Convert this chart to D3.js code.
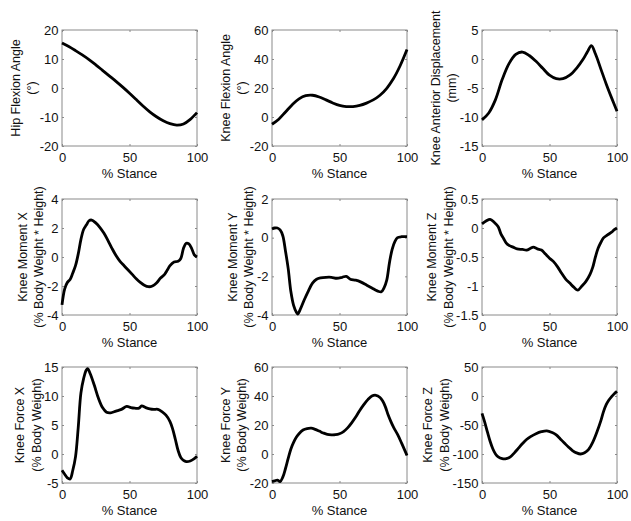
<!DOCTYPE html>
<html><head><meta charset="utf-8">
<script src="https://cdn.jsdelivr.net/npm/d3@7"></script>
<style>
body{margin:0;background:#fff}
text{font-family:Arial,"Liberation Sans",sans-serif;fill:#111}
</style>
</head><body>
<svg id="chart" width="631" height="521"></svg>
<script>
// ---------- DATA ----------
const stanceTicks = [0, 50, 100];

const hipFlexionX = [0,5,10,15,20,25,30,35,40,45,50,55,60,65,70,75,80,85,90,95,100];
const hipFlexionY = [15.5,14.3,12.9,11.4,9.8,8.0,6.1,4.2,2.3,0.3,-1.8,-4.0,-6.2,-8.2,-9.9,-11.3,-12.3,-12.8,-12.4,-10.8,-8.5];
const hipFlexionTicks = [-20,-10,0,10,20];

const kneeFlexionX = [0,5,10,15,20,25,30,35,40,45,50,55,60,65,70,75,80,85,90,95,100];
const kneeFlexionY = [-5,-1.5,3.5,8.5,12.5,14.7,15,13.8,11.8,9.7,8.0,7.2,7.2,8.0,9.6,11.8,15,19.8,26.5,35.5,46.5];
const kneeFlexionTicks = [-20,0,20,40,60];

const kneeDispX = [0,5,10,15,20,25,30,35,40,45,50,55,60,65,70,75,78,81,84,88,92,96,100];
const kneeDispY = [-10.5,-9.3,-7,-3.5,-0.8,0.8,1.2,0.6,-0.4,-1.6,-2.8,-3.4,-3.4,-2.8,-1.6,0,1.2,2.3,0.9,-1.7,-4.3,-6.7,-9];
const kneeDispTicks = [-15,-10,-5,0,5];

const momentXX = [0,2,4,6,8,10,12,14,16,18,20,22,25,28,31,34,37,40,43,46,49,52,55,58,61,64,67,70,73,76,78,80,83,86,88,90,92,94,96,98,100];
const momentXY = [-3.3,-2.2,-1.75,-1.55,-1.1,-0.6,0.2,1.2,1.9,2.2,2.5,2.55,2.35,2.05,1.65,1.15,0.6,0.1,-0.3,-0.6,-0.9,-1.2,-1.5,-1.75,-1.95,-2.05,-2.0,-1.8,-1.45,-1.2,-0.9,-0.6,-0.35,-0.3,-0.1,0.6,0.95,0.9,0.6,0.15,0.0];
const momentXTicks = [-4,-2,0,2,4];

const momentYX = [0,2,4,6,8,10,12,14,16,18,19,21,24,27,30,33,36,40,44,48,52,55,58,62,66,70,74,78,81,83,85,87,89,91,93,96,100];
const momentYY = [0.45,0.5,0.5,0.4,0.1,-0.7,-1.6,-2.8,-3.5,-3.85,-3.95,-3.7,-3.2,-2.75,-2.35,-2.15,-2.08,-2.05,-2.05,-2.1,-2.05,-2.0,-2.15,-2.2,-2.3,-2.45,-2.6,-2.75,-2.8,-2.6,-2.2,-1.3,-0.6,-0.2,0.0,0.05,0.05];
const momentYTicks = [-4,-2,0,2];

const momentZX = [0,3,6,9,12,14,16,18,20,23,26,30,33,36,38,41,44,47,50,53,56,59,62,65,68,71,74,77,80,82,84,86,88,90,93,96,98,100];
const momentZY = [0.07,0.12,0.15,0.1,0.02,-0.1,-0.18,-0.26,-0.3,-0.33,-0.36,-0.37,-0.38,-0.35,-0.33,-0.36,-0.38,-0.45,-0.52,-0.58,-0.67,-0.78,-0.88,-0.95,-1.02,-1.07,-1.0,-0.92,-0.8,-0.68,-0.5,-0.35,-0.25,-0.17,-0.12,-0.07,-0.03,0.0];
const momentZTicks = [-1.5,-1,-0.5,0,0.5];

const forceXX = [0,2,4,6,8,10,12,14,16,18,19,21,24,27,30,33,36,40,44,48,51,54,57,59,62,65,68,71,74,77,80,82,84,86,88,90,92,95,98,100];
const forceXY = [-2.8,-3.5,-4.1,-4.3,-2.8,-0.5,4.5,10.5,13.0,14.5,14.7,13.8,11.8,9.6,8.0,7.2,7.1,7.4,7.7,8.2,8.0,7.9,7.9,8.3,8.0,7.8,7.7,7.7,7.3,6.7,5.6,4.3,2.5,0.6,-0.6,-1.1,-1.3,-1.2,-0.8,-0.4];
const forceXTicks = [-5,0,5,10,15];

const forceYX = [0,2,4,6,8,10,12,14,16,18,20,23,26,29,32,35,38,41,44,47,50,53,56,59,62,65,68,71,74,77,80,82,84,86,88,90,93,96,100];
const forceYY = [-19,-18.5,-18,-19,-16,-10,-3,3.5,8,11.5,14,16.5,17.5,17.8,17,15.8,14.5,13.5,13.2,13.3,14,15.5,18,21.5,25.5,30,34,37.5,40,40.5,39,36.5,32.5,27,22.5,18.5,13.5,7.5,-1];
const forceYTicks = [-20,0,20,40,60];

const forceZX = [0,2,4,6,8,10,12,15,18,21,24,27,30,33,36,40,44,48,52,55,58,61,64,67,70,73,76,79,82,85,88,90,92,94,96,98,100];
const forceZY = [-30,-45,-62,-78,-91,-100,-105,-108,-108,-105,-98,-90,-82,-75,-70,-65,-61.5,-60,-63,-67,-74,-81,-88,-94,-98,-100,-98,-92,-80,-63,-43,-27,-15,-7,-1,4,8];
const forceZTicks = [-150,-100,-50,0,50];

const yLabelLines = [
  ["Hip Flexion Angle", "(\u00B0)"],
  ["Knee Flexion Angle", "(\u00B0)"],
  ["Knee Anterior Displacement", "(mm)"],
  ["Knee Moment X", "(% Body Weight * Height)"],
  ["Knee Moment Y", "(% Body Weight * Height)"],
  ["Knee Moment Z", "(% Body Weight * Height)"],
  ["Knee Force X", "(% Body Weight)"],
  ["Knee Force Y", "(% Body Weight)"],
  ["Knee Force Z", "(% Body Weight)"]
];
const xLabel = "% Stance";

// ---------- LAYOUT ----------
const panels = [
  {xs: hipFlexionX, ys: hipFlexionY, ticks: hipFlexionTicks},
  {xs: kneeFlexionX, ys: kneeFlexionY, ticks: kneeFlexionTicks},
  {xs: kneeDispX, ys: kneeDispY, ticks: kneeDispTicks},
  {xs: momentXX, ys: momentXY, ticks: momentXTicks},
  {xs: momentYX, ys: momentYY, ticks: momentYTicks},
  {xs: momentZX, ys: momentZY, ticks: momentZTicks},
  {xs: forceXX, ys: forceXY, ticks: forceXTicks},
  {xs: forceYX, ys: forceYY, ticks: forceYTicks},
  {xs: forceZX, ys: forceZY, ticks: forceZTicks}
];
const colLeft = [62, 272, 482];
const rowTop = [30, 199, 367];
const W = 135, H = 116;
const boxColor = "#8a8a8a";

const svg = d3.select("#chart");
svg.append("rect").attr("width", 631).attr("height", 521).attr("fill", "#fff");

panels.forEach((p, i) => {
  const left = colLeft[i % 3], top = rowTop[Math.floor(i / 3)];
  const x = d3.scaleLinear().domain([0, 100]).range([left, left + W]);
  const y = d3.scaleLinear().domain(d3.extent(p.ticks)).range([top + H, top]);
  const g = svg.append("g");
  const fmt = d => String(d);

  const ay = g.append("g").attr("transform", `translate(${left},0)`)
    .call(d3.axisLeft(y).tickValues(p.ticks).tickSize(-2).tickPadding(3.5).tickFormat(fmt));
  g.append("g").attr("transform", `translate(0,${top + H})`)
    .call(d3.axisBottom(x).tickValues(stanceTicks).tickSize(-2).tickPadding(6.5).tickFormat(fmt));
  g.append("g").attr("transform", `translate(${left + W},0)`)
    .call(d3.axisRight(y).tickValues(p.ticks).tickSize(-2).tickFormat(""));
  g.append("g").attr("transform", `translate(0,${top})`)
    .call(d3.axisTop(x).tickValues(stanceTicks).tickSize(-2).tickFormat(""));
  g.selectAll(".domain").remove();
  g.selectAll(".tick line").attr("stroke", boxColor);
  g.selectAll(".tick text").attr("font-size", 13).attr("fill", "#111")
    .attr("font-family", "Arial, 'Liberation Sans', sans-serif");

  g.append("rect").attr("x", left).attr("y", top).attr("width", W).attr("height", H)
    .attr("fill", "none").attr("stroke", boxColor).attr("stroke-width", 1);

  const line = d3.line().x((d, k) => x(p.xs[k])).y(d => y(d)).curve(d3.curveCatmullRom.alpha(0.5));
  g.append("path").attr("d", line(p.ys)).attr("fill", "none")
    .attr("stroke", "#000").attr("stroke-width", 2.8).attr("stroke-linejoin", "round");

  g.append("text").attr("x", left + W / 2).attr("y", top + H + 31.5)
    .attr("text-anchor", "middle").attr("font-size", 13).text(xLabel);

  let maxW = 0;
  ay.selectAll(".tick text").each(function () { maxW = Math.max(maxW, this.getComputedTextLength()); });
  const tickLeft = left - 3.5 - maxW;
  const cy = top + H / 2;
  const lines = yLabelLines[i];
  [lines[0], lines[1]].forEach((t, k) => {
    const bx = tickLeft - 3.5 - (1 - k) * 16.5;
    g.append("text").attr("transform", `translate(${bx},${cy}) rotate(-90)`)
      .attr("text-anchor", "middle").attr("font-size", 12.5).text(t);
  });
});
</script>
</body></html>
